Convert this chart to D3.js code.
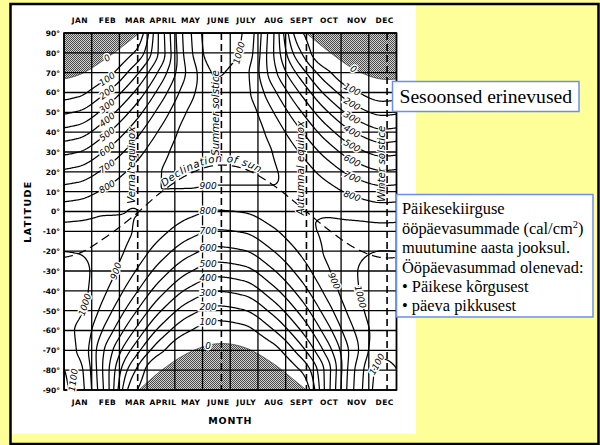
<!DOCTYPE html>
<html><head><meta charset="utf-8">
<script src="https://cdn.jsdelivr.net/npm/d3@7"></script>
<style>body{margin:0;background:#ffff99;}svg{display:block}</style>
</head><body>
<svg id="c" width="600" height="445"></svg>
<script>
// ---------- DATA ----------
const months = ["JAN","FEB","MAR","APRIL","MAY","JUNE","JULY","AUG","SEPT","OCT","NOV","DEC"];
const latTicks = [90,80,70,60,50,40,30,20,10,0,-10,-20,-30,-40,-50,-60,-70,-80,-90];
const latTickLabels = ["90°","80°","70°","60°","50°","40°","30°","20°","10°","0°","-10°","-20°","-30°","-40°","-50°","-60°","-70°","-80°","-90°"];
const contourLevels = [100,200,300,400,500,600,700,800,900,1000,1100];
// daily insolation (cal/cm2), mid-month, latitude 90 -> -90
const insolJan = [0,0,0,75,208,354,498,634,755,858,939,995,1026,1033,1017,990,993,1040,1056];
const insolFeb = [0,0,59,195,340,481,611,725,818,889,934,952,943,908,849,771,684,655,665];
const insolMar = [0,98,250,396,531,649,748,824,876,901,898,868,812,732,629,507,371,225,128];
const insolApr = [445,441,538,647,743,819,872,899,900,874,823,747,649,533,402,262,120,3,0];
const insolMay = [874,861,827,864,910,940,948,932,892,827,740,633,511,378,240,107,6,0,0];
const insolJun = [1074,1058,1009,979,991,993,977,939,877,794,691,572,440,303,168,48,0,0,0];
const insolJul = [991,976,931,928,954,969,963,933,880,805,708,595,467,332,195,70,0,0,0];
const insolAug = [635,626,654,736,811,867,901,909,892,849,781,692,583,459,324,186,57,0,0];
const insolSep = [126,221,364,498,617,718,797,852,882,884,860,809,734,637,521,389,245,97,0];
const insolOct = [0,3,122,266,409,542,660,759,836,889,915,914,886,832,755,658,547,449,452];
const insolNov = [0,0,6,112,251,396,535,663,775,866,934,976,993,984,953,905,866,902,915];
const insolDec = [0,0,0,52,179,323,470,609,737,846,935,1001,1042,1059,1056,1043,1076,1128,1145];
// declination of the sun, mid-month (degrees)
const declination = [-21.3,-13.0,-2.4,9.7,18.8,23.3,21.5,13.8,2.8,-8.7,-18.4,-23.3];
// equinox / solstice dates (in months from Jan 1)
const eventDates = [2.66, 5.68, 8.75, 11.66];
const eventNames = ["Vernal equinox","Summer solstice","Autumnal equinox","Winter solstice"];
const boxTitle = "Sesoonsed erinevused";
const boxLines = ["Päikesekiirguse","ööpäevasummade (cal/cm|2|)","muutumine aasta jooksul.","Ööpäevasummad olenevad:","• Päikese kõrgusest","• päeva pikkusest"];

const columns = [insolJan,insolFeb,insolMar,insolApr,insolMay,insolJun,insolJul,insolAug,insolSep,insolOct,insolNov,insolDec];

// ---------- LAYOUT ----------
const X0=64, X1=396.5, Y0=33, Y1=390;
const x = d3.scaleLinear().domain([0,12]).range([X0,X1]);
const y = d3.scaleLinear().domain([90,-90]).range([Y0,Y1]);
const svg = d3.select("#c");

// ---------- interpolation helpers (rendering) ----------
function tangents(v, periodic){
  const n=v.length, m=new Array(n);
  for(let k=0;k<n;k++){
    let d0,d1;
    if(periodic){ d0=v[k]-v[(k-1+n)%n]; d1=v[(k+1)%n]-v[k]; }
    else { d0 = k>0? v[k]-v[k-1] : null; d1 = k<n-1? v[k+1]-v[k] : null; if(d0===null) d0=d1; if(d1===null) d1=d0; }
    m[k] = d0*d1<=0 ? 0 : 2*d0*d1/(d0+d1);
  }
  return m;
}
function hermite(v,m,k,f,periodic){
  const n=v.length, k1 = periodic? (k+1)%n : Math.min(k+1,n-1);
  const f2=f*f, f3=f2*f;
  return (2*f3-3*f2+1)*v[k]+(f3-2*f2+f)*m[k]+(-2*f3+3*f2)*v[k1]+(f3-f2)*m[k1];
}
const latTan = columns.map(c=>tangents(c,false));
function colsAt(lat){
  const u=(90-lat)/10; let r=Math.min(17,Math.max(0,Math.floor(u))); const f=u-r;
  return columns.map((c,i)=>hermite(c,latTan[i],r,f,false));
}
function timeInterp(vals,m,t){
  let s=t-0.5; let k=Math.floor(s); const f=s-k; k=((k%12)+12)%12;
  return hermite(vals,m,k,f,true);
}
function fieldAt(t,lat){ const v=colsAt(lat); return timeInterp(v,tangents(v,true),t); }
const decTan = declination.map((d,k)=>(declination[(k+1)%12]-declination[(k+11)%12])/2);
function decAt(t){ let s=t-0.5; let k=Math.floor(s); const f=s-k; k=((k%12)+12)%12; return hermite(declination,decTan,k,f,true); }

// ---------- page ----------
svg.append("rect").attr("width",600).attr("height",445).attr("fill","#ffff99");
svg.append("rect").attr("x",11.5).attr("y",5).attr("width",404.5).attr("height",429).attr("fill","#fff");
svg.append("rect").attr("x",10.5).attr("y",4).attr("width",588).attr("height",440).attr("fill","none").attr("stroke","#000").attr("stroke-width",2.5);

const defs = svg.append("defs");
defs.append("clipPath").attr("id","plotclip").append("rect").attr("x",X0).attr("y",Y0).attr("width",X1-X0).attr("height",Y1-Y0);
const pat = defs.append("pattern").attr("id","stip").attr("width",2).attr("height",2).attr("patternUnits","userSpaceOnUse");
pat.append("rect").attr("width",2).attr("height",2).attr("fill","#d2d2d2");
pat.append("rect").attr("width",1).attr("height",1).attr("fill","#4a4a4a");
pat.append("rect").attr("x",1).attr("y",1).attr("width",1).attr("height",1).attr("fill","#4a4a4a");

const plot = svg.append("g").attr("clip-path","url(#plotclip)");

// ---------- polar night (from declination) ----------
const ts = d3.range(0,12.0001,0.02);
const north = ts.map(t=>[x(t),y(90)]).concat(ts.slice().reverse().map(t=>[x(t),y(90+decAt(t))]));
const south = ts.map(t=>[x(t),y(-90)]).concat(ts.slice().reverse().map(t=>[x(t),y(-90+decAt(t))]));
const polyLine = d3.line();
plot.append("path").attr("d",polyLine(north)+"Z").attr("fill","url(#stip)");
plot.append("path").attr("d",polyLine(south)+"Z").attr("fill","url(#stip)");
plot.append("path").attr("d",polyLine(ts.map(t=>[x(t),y(90+decAt(t))]))).attr("fill","none").attr("stroke","#333").attr("stroke-width",0.8);
plot.append("path").attr("d",polyLine(ts.map(t=>[x(t),y(-90+decAt(t))]))).attr("fill","none").attr("stroke","#333").attr("stroke-width",0.8);

// ---------- grid ----------
const grid = svg.append("g").attr("stroke","#000").attr("stroke-width",1.3);
grid.selectAll("line.v").data(d3.range(0,13)).join("line")
  .attr("x1",d=>x(d)).attr("x2",d=>x(d)).attr("y1",Y0).attr("y2",Y1);
grid.selectAll("line.h").data(latTicks).join("line")
  .attr("x1",X0).attr("x2",X1).attr("y1",d=>y(d)).attr("y2",d=>y(d));
svg.append("rect").attr("x",X0).attr("y",Y0).attr("width",X1-X0).attr("height",Y1-Y0).attr("fill","none").attr("stroke","#000").attr("stroke-width",1.6);

// event dashed lines
svg.append("g").selectAll("line").data(eventDates).join("line")
  .attr("x1",d=>x(d)).attr("x2",d=>x(d)).attr("y1",Y0).attr("y2",Y1)
  .attr("stroke","#000").attr("stroke-width",1.6).attr("stroke-dasharray","7,4");

// declination dashed curve
plot.append("path").attr("d",polyLine(ts.map(t=>[x(t),y(decAt(t))]))).attr("fill","none")
  .attr("stroke","#000").attr("stroke-width",1.2).attr("stroke-dasharray","9,5");

// ---------- contours ----------
const nx=333, ny=358;
const values = new Float64Array(nx*ny);
for(let j=0;j<ny;j++){
  const lat = 90 - j/(ny-1)*180;
  const v = colsAt(lat), m = tangents(v,true);
  for(let i=0;i<nx;i++){ values[j*nx+i] = timeInterp(v,m,i/(nx-1)*12); }
}
const contours = d3.contours().size([nx,ny]).thresholds(contourLevels)(values);
const proj = d3.geoTransform({point:function(cx,cy){ this.stream.point(x((cx-0.5)/(nx-1)*12), y(90-(cy-0.5)/(ny-1)*180)); }});
plot.selectAll("path.ct").data(contours).join("path").attr("class","ct")
  .attr("d",d3.geoPath(proj)).attr("fill","none").attr("stroke","#000").attr("stroke-width",1.25);

// ---------- contour labels ----------
function findLat(level,t,a,b){
  const N=600; let pl=a, pv=fieldAt(t,a)-level;
  for(let s=1;s<=N;s++){ const l=a+(b-a)*s/N, v=fieldAt(t,l)-level;
    if(pv*v<=0 && pv!==v) return pl+(l-pl)*pv/(pv-v); pl=l; pv=v; }
  return null;
}
function findT(level,lat,a,b){
  const N=600; let pt=a, pv=fieldAt(a,lat)-level;
  for(let s=1;s<=N;s++){ const t=a+(b-a)*s/N, v=fieldAt(t,lat)-level;
    if(pv*v<=0 && pv!==v) return pt+(t-pt)*pv/(pv-v); pt=t; pv=v; }
  return null;
}
function angleAt(t,lat){
  const dt=0.02, dl=0.3;
  const fx=(fieldAt(t+dt,lat)-fieldAt(t-dt,lat))/(2*dt*(x(1)-x(0)));
  const fy=(fieldAt(t,lat-dl)-fieldAt(t,lat+dl))/(2*dl*(y(-1)-y(0)));
  let a=Math.atan2(-fx,fy)*180/Math.PI;
  if(a>90) a-=180; if(a<=-90) a+=180;
  return a;
}
const labels=[];
[100,200,300,400,500,600,700,800].forEach(L=>{ const la=findLat(L,1.55,90,0); if(la!==null) labels.push({t:1.55,lat:la,text:L,rot:angleAt(1.55,la)}); });
[100,200,300,400,500,600,700,800].forEach(L=>{ const la=findLat(L,10.4,90,0); if(la!==null) labels.push({t:10.4,lat:la,text:L,rot:angleAt(10.4,la)}); });
{ const la=findLat(900,5.2,40,0); if(la!==null) labels.push({t:5.2,lat:la,text:900,rot:0}); }
[800,700,600,500,400,300,200,100].forEach(L=>{ const la=findLat(L,5.2,10,-85); if(la!==null) labels.push({t:5.2,lat:la,text:L,rot:0}); });
{ const t=findT(1000,80,5.5,7.5); if(t!==null) labels.push({t,lat:80,text:1000,rot:angleAt(t,80)}); }
{ const t=findT(900,-30,1,3); if(t!==null) labels.push({t,lat:-30,text:900,rot:angleAt(t,-30)}); }
{ const t=findT(1000,-47,0.05,1.5); if(t!==null) labels.push({t,lat:-47,text:1000,rot:angleAt(t,-47)}); }
{ const t=findT(1100,-85,0.0,1.5); if(t!==null) labels.push({t:t+0.22,lat:-85,text:1100,rot:-82}); }
{ const t=findT(900,-35,9,11); if(t!==null) labels.push({t,lat:-35,text:900,rot:angleAt(t,-35)}); }
{ const t=findT(1000,-43,10,11.5); if(t!==null) labels.push({t,lat:-43,text:1000,rot:angleAt(t,-43)}); }
{ const t=findT(1100,-77,10.8,12); if(t!==null) labels.push({t,lat:-77,text:1100,rot:angleAt(t,-77)}); }
// zero labels on polar night boundary
function decSlopeAngle(t){ const d=0.02; const dx=x(t+d)-x(t-d), dy=y(decAt(t+d))-y(decAt(t-d)); return Math.atan2(dy,dx)*180/Math.PI; }
labels.push({t:1.55,lat:90+decAt(1.55),text:0,rot:decSlopeAngle(1.55)});
labels.push({t:10.45,lat:90+decAt(10.45),text:0,rot:decSlopeAngle(10.45)});
labels.push({t:5.2,lat:-90+decAt(5.2),text:0,rot:0});

svg.append("g").selectAll("text").data(labels).join("text")
  .attr("transform",d=>`translate(${x(d.t)},${y(d.lat)}) rotate(${d.rot})`)
  .attr("text-anchor","middle").attr("dy","0.36em")
  .attr("font-family","DejaVu Sans").attr("font-style","italic").attr("font-size",9)
  .attr("fill","#000").attr("stroke","#fff").attr("stroke-width",3).attr("paint-order","stroke")
  .text(d=>d.text);

// ---------- event labels ----------
const evLabelLat = [23.4, 49.7, 21.9, 24];
svg.append("g").selectAll("text").data(eventNames).join("text")
  .attr("transform",(d,i)=>`translate(${x(eventDates[i])-2.5},${y(evLabelLat[i])}) rotate(-90)`)
  .attr("text-anchor","middle").attr("font-family","DejaVu Sans").attr("font-style","italic")
  .attr("font-size",10.3).attr("fill","#000").attr("stroke","#fff").attr("stroke-width",2).attr("paint-order","stroke")
  .text(d=>d);

// declination text along curve
const tp = d3.range(3.55,7.6,0.02).map(t=>[x(t),y(decAt(t))-3]);
defs.append("path").attr("id","decpath").attr("d",polyLine(tp));
svg.append("text").attr("font-family","DejaVu Sans").attr("font-style","italic").attr("font-size",10.3)
  .attr("letter-spacing",0.6).attr("fill","#000").attr("stroke","#fff").attr("stroke-width",2.5).attr("paint-order","stroke")
  .append("textPath").attr("href","#decpath").attr("startOffset",2).text("Declination of sun");

// ---------- axes ----------
function styleAxis(g){
  g.select(".domain").remove();
  g.selectAll("text").attr("font-family","DejaVu Sans").attr("font-weight","bold").attr("font-size",7.5).attr("fill","#000");
}
const monthPos = d3.range(12).map(k=>k+0.5);
svg.append("g").attr("transform",`translate(1.5,${Y0})`)
  .call(d3.axisTop(x).tickValues(monthPos).tickFormat((d,i)=>months[i]).tickSize(0).tickPadding(10))
  .call(styleAxis).selectAll("text").attr("letter-spacing",0.5);
svg.append("g").attr("transform",`translate(1.5,${Y1})`)
  .call(d3.axisBottom(x).tickValues(monthPos).tickFormat((d,i)=>months[i]).tickSize(0).tickPadding(10))
  .call(styleAxis).selectAll("text").attr("letter-spacing",0.5);
svg.append("g").attr("transform",`translate(${X0},0)`)
  .call(d3.axisLeft(y).tickValues(latTicks).tickFormat((d,i)=>latTickLabels[i]).tickSize(0).tickPadding(4))
  .call(styleAxis);

svg.append("text").attr("x",(X0+X1)/2).attr("y",424).attr("text-anchor","middle")
  .attr("font-family","DejaVu Sans").attr("font-weight","bold").attr("font-size",9.5).attr("letter-spacing",0.8).text("MONTH");
svg.append("text").attr("transform",`translate(31,${y(0)}) rotate(-90)`).attr("text-anchor","middle")
  .attr("font-family","DejaVu Sans").attr("font-weight","bold").attr("font-size",9.5).attr("letter-spacing",1.4).text("LATITUDE");

// ---------- text boxes ----------
svg.append("rect").attr("x",392.5).attr("y",81.5).attr("width",186.5).attr("height",30)
  .attr("fill","#fff").attr("stroke","#6b8ef2").attr("stroke-width",1.5);
svg.append("text").attr("x",399.5).attr("y",103.3).attr("font-family","Liberation Serif").attr("font-size",19.6).attr("fill","#000").text(boxTitle);

svg.append("rect").attr("x",396.5).attr("y",194.5).attr("width",196.5).attr("height",122.5)
  .attr("fill","#fff").attr("stroke","#6b8ef2").attr("stroke-width",1.5);
const bt = svg.append("text").attr("font-family","Liberation Serif").attr("font-size",16.4).attr("fill","#000");
boxLines.forEach((ln,i)=>{
  const parts = ln.split("|");
  bt.append("tspan").attr("x",402).attr("y",214.3+i*19.4).text(parts[0]);
  if(parts.length>1){
    bt.append("tspan").attr("font-size",10.5).attr("dy",-6).text(parts[1]);
    bt.append("tspan").attr("dy",6).text(parts[2]);
  }
});
</script>
</body></html>
